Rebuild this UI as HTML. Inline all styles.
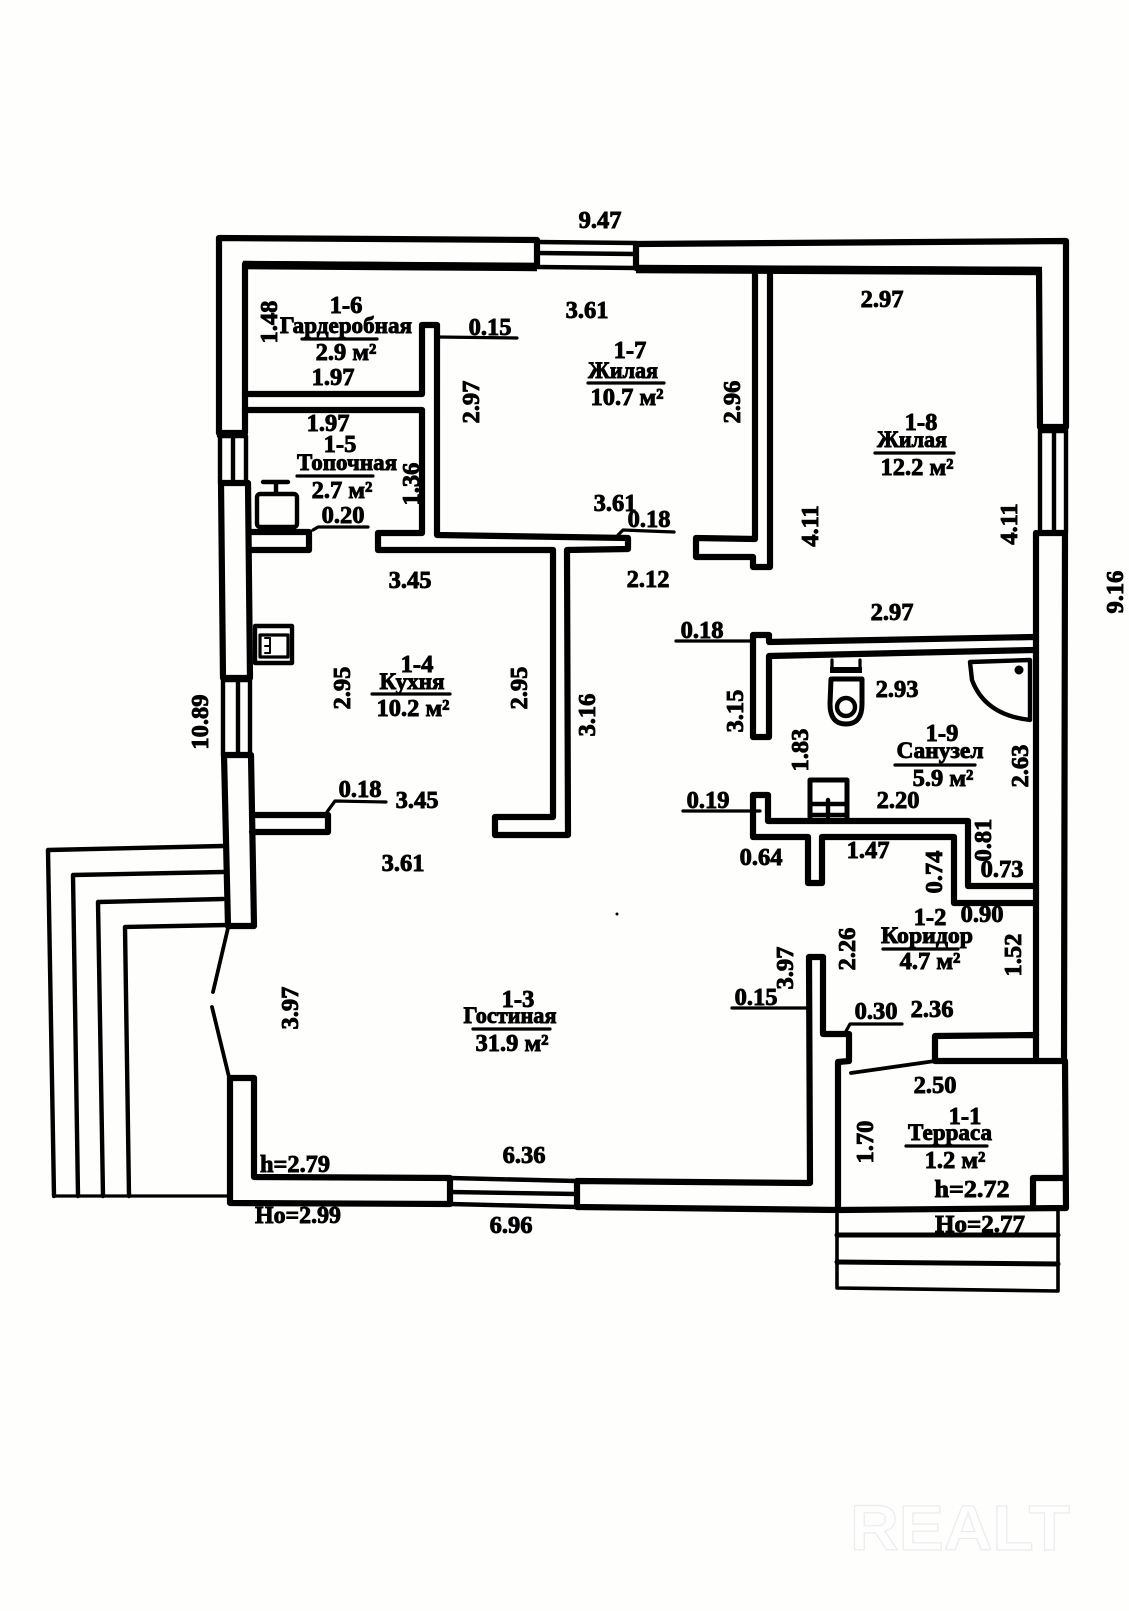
<!DOCTYPE html>
<html><head><meta charset="utf-8"><style>
html,body{margin:0;padding:0;background:#fff}
svg{display:block}
.w{fill:none;stroke:#000;stroke-width:6.2;stroke-linejoin:round;stroke-linecap:round}
.t{fill:none;stroke:#000;stroke-width:3.2;stroke-linecap:round;stroke-linejoin:round}
.m{fill:none;stroke:#000;stroke-width:4.4;stroke-linecap:round;stroke-linejoin:round}
.h{fill:none;stroke:#000;stroke-width:8.5;stroke-linecap:butt}
text{font-family:"Liberation Serif","DejaVu Serif",serif;font-weight:bold;font-size:24.5px;text-anchor:middle;fill:#000;stroke:#000;stroke-width:.9}
text.r{font-size:23px}
text.wm{font-family:"Liberation Sans",sans-serif;font-size:64px;fill:#fff;stroke:#ececec;stroke-width:1.2}
</style></head><body>
<svg width="1129" height="1611" viewBox="0 0 1129 1611" xmlns="http://www.w3.org/2000/svg">
<rect width="1129" height="1611" fill="#fefefd"/>
<!-- outer walls -->
<path class="w" d="M219 238L537 240L537 266L245 264L245 433L219 433Z"/>
<path class="h" d="M243 265L537 267M636 269L1042 271"/>
<path class="m" d="M537 242L636 243M537 253L636 254M537 267L636 268M219 436L245 436M220 436L220 483M233 436L233 483M246 436L246 483M220 483L248 483"/>
<path class="w" d="M636 244L1066 241L1066 427L1040 427L1039 270L636 268Z"/>
<path class="m" d="M1040 430L1040 532M1054 430L1054 532M1066 427L1066 532M1040 431L1066 431"/>
<path class="w" d="M1039 533L1065 533L1064 1061L1036 1061L1036 1035L935 1036L935 1061L1065 1061L1066 1208L838 1210L838 1062L849 1061L849 1034L823 1034L823 957L809 957L810 1183L577 1181L577 1207L838 1210"/>
<path class="w" d="M1036 1035L1036 533"/>
<path class="w" d="M221 483L248 483L250 678L223 678Z"/>
<path class="m" d="M223 681L223 755M238 681L238 755M250 681L250 755M223 680L250 680"/>
<path class="w" d="M224 755L251 755L254 926L228 926Z"/>
<path class="t" style="stroke-width:3.8" d="M228 928L213 992M212 1007L229 1077"/>
<path class="w" d="M230 1078L254 1078L254 1177L450 1178L450 1204L230 1203Z"/>
<path class="m" d="M450 1178L577 1181M450 1192L577 1194M450 1204L577 1207"/>
<!-- interior walls -->
<path class="w" d="M245 394L422 394L422 325L437 325L437 535L628 538L628 549L567 550L568 835L495 835L495 817L553 817L553 550L378 550L378 533L422 533L422 410L245 410"/>
<path class="w" d="M250 532L309 532L309 550L250 550"/>
<path class="w" d="M252 815L328 815L328 832L252 832"/>
<path class="w" d="M755 269L755 539L696 538L696 557L753 557L753 567L770 567L770 269"/>
<path class="w" d="M1034 637L769 642L769 635L753 635L753 737L769 737L769 656L1034 650"/>
<path class="w" d="M1036 886L968 886L968 821L768 821L768 795L753 795L753 837L808 837L808 883L822 883L822 837L954 837L954 903L1036 903"/>
<!-- door -->
<path class="t" style="stroke-width:3.8" d="M851 1073L935 1061"/>
<!-- leaders -->
<path class="t" d="M438 337L517 338M313 530L318 527L368 527M618 535L623 530L674 532M676 641L752 641M683 811L760 811M732 1008L807 1008M845 1033L850 1024L902 1024M327 812L335 801L386 802"/>
<!-- underlines -->
<path class="t" d="M302 339L377 339M297 476L373 476M588 383L664 383M875 453L954 453M372 694L450 694M895 765L975 765M883 949L958 949M473 1029L550 1029M906 1146L987 1146"/>
<!-- left steps -->
<path class="m" d="M223 846L48 850L54 1196M223 872L73 875L78 1196M223 899L98 902L103 1196M227 925L125 927L129 1196"/>
<path class="t" d="M54 1196L230 1196"/>
<!-- right steps -->
<path class="t" style="stroke-width:3.6" d="M837 1210L837 1288L1058 1291L1058 1210"/>
<path class="m" style="stroke-width:5" d="M837 1235L1058 1235M837 1262L1058 1264"/>
<path class="w" d="M1033 1205L1033 1178L1065 1178"/>
<!-- boiler -->
<path class="m" d="M263 482L288 482M276 482L276 493"/>
<rect class="m" x="257" y="494" width="40" height="33" rx="3"/>
<!-- kitchen sink -->
<rect class="m" x="255" y="626" width="37" height="37"/>
<rect class="t" x="260" y="635" width="28" height="22"/>
<path class="t" style="stroke-width:2" d="M265 638L270 638L270 653L265 653M265 646L270 646"/>
<!-- toilet -->
<path class="t" d="M832 660L832 668M860 660L860 668"/>
<path class="h" style="stroke-width:6" d="M830 670L862 670"/>
<path class="m" style="stroke-width:5" d="M831 679L862 679L862 704Q862 724 846 724Q830 724 830 704Z"/>
<circle class="m" cx="846" cy="707" r="9"/>
<!-- shower -->
<path class="m" d="M970 662L1030 660L1030 720Q985 715 972 680Z"/>
<circle cx="1019" cy="670" r="4.5" fill="#000"/>
<!-- bath sink -->
<path class="m" style="stroke-width:5" d="M810 817L810 780L847 780L847 817"/>
<path class="m" d="M812 804L845 804M812 815L845 815M828 800L828 817"/>
<circle cx="617" cy="914" r="1.5" fill="#000"/>

<!-- horizontal labels -->
<text x="600" y="228">9.47</text>
<text x="587" y="318">3.61</text>
<text x="346" y="313">1-6</text>
<text class="r" x="346" y="333" textLength="132" lengthAdjust="spacingAndGlyphs">Гардеробная</text>
<text x="346" y="360">2.9 м²</text>
<text x="333" y="385">1.97</text>
<text x="328" y="431">1.97</text>
<text x="340" y="452">1-5</text>
<text class="r" x="347" y="470" textLength="100" lengthAdjust="spacingAndGlyphs">Топочная</text>
<text x="342" y="498">2.7 м²</text>
<text x="343" y="523">0.20</text>
<text x="490" y="335">0.15</text>
<text x="630" y="358">1-7</text>
<text class="r" x="623" y="378" textLength="70" lengthAdjust="spacingAndGlyphs">Жилая</text>
<text x="627" y="405">10.7 м²</text>
<text x="615" y="511">3.61</text>
<text x="649" y="527">0.18</text>
<text x="410" y="588">3.45</text>
<text x="648" y="587">2.12</text>
<text x="882" y="307">2.97</text>
<text x="921" y="430">1-8</text>
<text class="r" x="912" y="447" textLength="70" lengthAdjust="spacingAndGlyphs">Жилая</text>
<text x="917" y="475">12.2 м²</text>
<text x="892" y="620">2.97</text>
<text x="702" y="638">0.18</text>
<text x="417" y="672">1-4</text>
<text class="r" x="412" y="689" textLength="65" lengthAdjust="spacingAndGlyphs">Кухня</text>
<text x="413" y="716">10.2 м²</text>
<text x="360" y="797">0.18</text>
<text x="417" y="808">3.45</text>
<text x="403" y="871">3.61</text>
<text x="897" y="697">2.93</text>
<text x="942" y="741">1-9</text>
<text class="r" x="940" y="758" textLength="87" lengthAdjust="spacingAndGlyphs">Санузел</text>
<text x="943" y="786">5.9 м²</text>
<text x="898" y="808">2.20</text>
<text x="708" y="808">0.19</text>
<text x="761" y="865">0.64</text>
<text x="868" y="858">1.47</text>
<text x="1002" y="877">0.73</text>
<text x="930" y="925">1-2</text>
<text x="982" y="922">0.90</text>
<text class="r" x="927" y="943" textLength="92" lengthAdjust="spacingAndGlyphs">Коридор</text>
<text x="930" y="969">4.7 м²</text>
<text x="756" y="1005">0.15</text>
<text x="876" y="1019">0.30</text>
<text x="932" y="1017">2.36</text>
<text x="518" y="1007">1-3</text>
<text class="r" x="510" y="1023" textLength="93" lengthAdjust="spacingAndGlyphs">Гостиная</text>
<text x="512" y="1051">31.9 м²</text>
<text x="295" y="1172" textLength="70" lengthAdjust="spacingAndGlyphs">h=2.79</text>
<text x="298" y="1223" textLength="86" lengthAdjust="spacingAndGlyphs">Ho=2.99</text>
<text x="524" y="1163">6.36</text>
<text x="511" y="1233">6.96</text>
<text x="935" y="1093">2.50</text>
<text x="965" y="1124">1-1</text>
<text class="r" x="950" y="1140" textLength="84" lengthAdjust="spacingAndGlyphs">Терраса</text>
<text x="955" y="1168">1.2 м²</text>
<text x="972" y="1197" textLength="75" lengthAdjust="spacingAndGlyphs">h=2.72</text>
<text x="980" y="1232" textLength="90" lengthAdjust="spacingAndGlyphs">Ho=2.77</text>

<!-- vertical labels -->
<text transform="translate(479,402) rotate(-90)">2.97</text>
<text transform="translate(277,322) rotate(-90)">1.48</text>
<text transform="translate(419,484) rotate(-90)">1.36</text>
<text transform="translate(740,402) rotate(-90)">2.96</text>
<text transform="translate(818,526) rotate(-90)">4.11</text>
<text transform="translate(1017,524) rotate(-90)">4.11</text>
<text transform="translate(1123,592) rotate(-90)">9.16</text>
<text transform="translate(208,722) rotate(-90)">10.89</text>
<text transform="translate(350,688) rotate(-90)">2.95</text>
<text transform="translate(527,688) rotate(-90)">2.95</text>
<text transform="translate(595,715) rotate(-90)">3.16</text>
<text transform="translate(743,711) rotate(-90)">3.15</text>
<text transform="translate(808,750) rotate(-90)">1.83</text>
<text transform="translate(1028,766) rotate(-90)">2.63</text>
<text transform="translate(991,840) rotate(-90)">0.81</text>
<text transform="translate(942,872) rotate(-90)">0.74</text>
<text transform="translate(855,949) rotate(-90)">2.26</text>
<text transform="translate(1021,955) rotate(-90)">1.52</text>
<text transform="translate(793,968) rotate(-90)">3.97</text>
<text transform="translate(298,1008) rotate(-90)">3.97</text>
<text transform="translate(873,1142) rotate(-90)">1.70</text>

<text class="wm" x="960" y="1550" textLength="220" lengthAdjust="spacingAndGlyphs">REALT</text>
</svg>
</body></html>
